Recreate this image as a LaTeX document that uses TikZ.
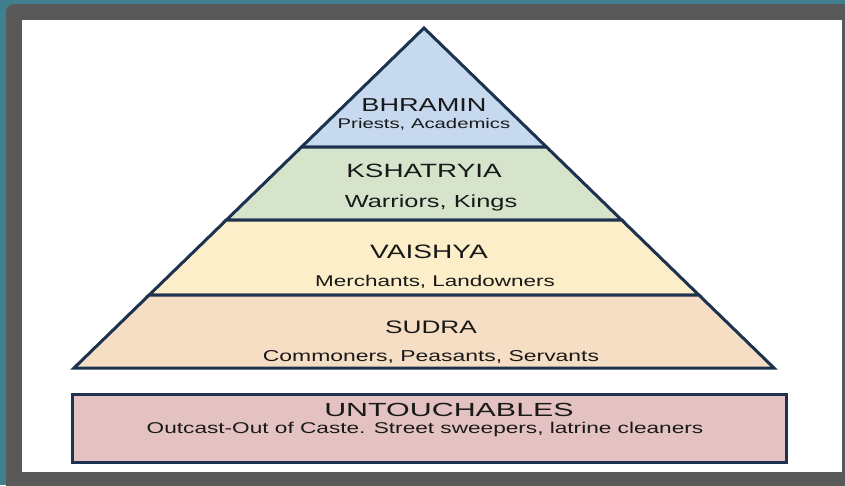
\documentclass[tikz,border=0pt]{standalone}
\usepackage{fontspec}
\setmainfont{Liberation Sans}
\usepackage{graphicx}
\usetikzlibrary{calc}
\definecolor{slideteal}{RGB}{64,128,142}
\definecolor{framegray}{RGB}{89,89,89}
\definecolor{tierline}{RGB}{28,50,78}
\definecolor{bhraminfill}{RGB}{198,217,239}
\definecolor{kshatfill}{RGB}{215,228,204}
\definecolor{vaishfill}{RGB}{252,238,200}
\definecolor{sudrafill}{RGB}{246,222,196}
\definecolor{untouchfill}{RGB}{229,194,194}
\newcommand\tiertext[3]{\scalebox{#2}[1]{\fontsize{#1}{#1}\selectfont #3}}
\tikzset{
  tier/.style={draw=tierline, line width=3pt, line join=miter},
  tiername/.style={anchor=base, inner sep=0pt, text=black!90}
}
\begin{document}
\begin{tikzpicture}[x=1pt, y=-1pt]
	\useasboundingbox (0,0) rectangle (845,485);
	\fill[slideteal] (0,0) rectangle (845,485);
	\fill[framegray, rounded corners=8pt] (6,4) rectangle (870,510);
	\fill[white] (22,20) rectangle (842,472);
	% pyramid
	\coordinate (apex) at (424,28);
	\coordinate (bl) at (74,368);
	\coordinate (br) at (774,368);
	\filldraw[tier, fill=bhraminfill] (apex) -- ($(apex)!0.35!(bl)$) -- ($(apex)!0.35!(br)$) -- cycle;
	\foreach \a\b\c in {0.35/0.5647/kshatfill, 0.5647/0.7853/vaishfill, 0.7853/1/sudrafill}{
		\filldraw[tier, fill=\c] ($(apex)!\a!(bl)$) -- ($(apex)!\b!(bl)$) -- ($(apex)!\b!(br)$) -- ($(apex)!\a!(br)$) -- cycle;
	}
	\node[tiername] (bhramin) at (424,111) {\tiertext{18.7}{1.45}{BHRAMIN}};
	\node[tiername] (bhraminsub) at (424,128) {\tiertext{14}{1.45}{Priests, Academics}};
	\node[tiername] (kshatryia) at (424,177) {\tiertext{19.2}{1.45}{KSHATRYIA}};
	\node[tiername] (kshatryiasub) at (431,207) {\tiertext{17.5}{1.45}{Warriors, Kings}};
	\node[tiername] (vaishya) at (429,258) {\tiertext{19.4}{1.45}{VAISHYA}};
	\node[tiername] (vaishyasub) at (435,286) {\tiertext{15.5}{1.45}{Merchants, Landowners}};
	\node[tiername] (sudra) at (431,333) {\tiertext{18.1}{1.45}{SUDRA}};
	\node[tiername] (sudrasub) at (431,361.5) {\tiertext{15.8}{1.45}{Commoners, Peasants, Servants}};
	% outcasts
	\filldraw[tier, fill=untouchfill] (72,394) rectangle (786,462);
	\node[tiername] (untouch) at (449,416) {\tiertext{19}{1.6}{UNTOUCHABLES}};
	\node[tiername] (untouchsub) at (425,433) {\tiertext{15.6}{1.45}{Outcast-Out of Caste. Street sweepers, latrine cleaners}};
\end{tikzpicture}
\end{document}
